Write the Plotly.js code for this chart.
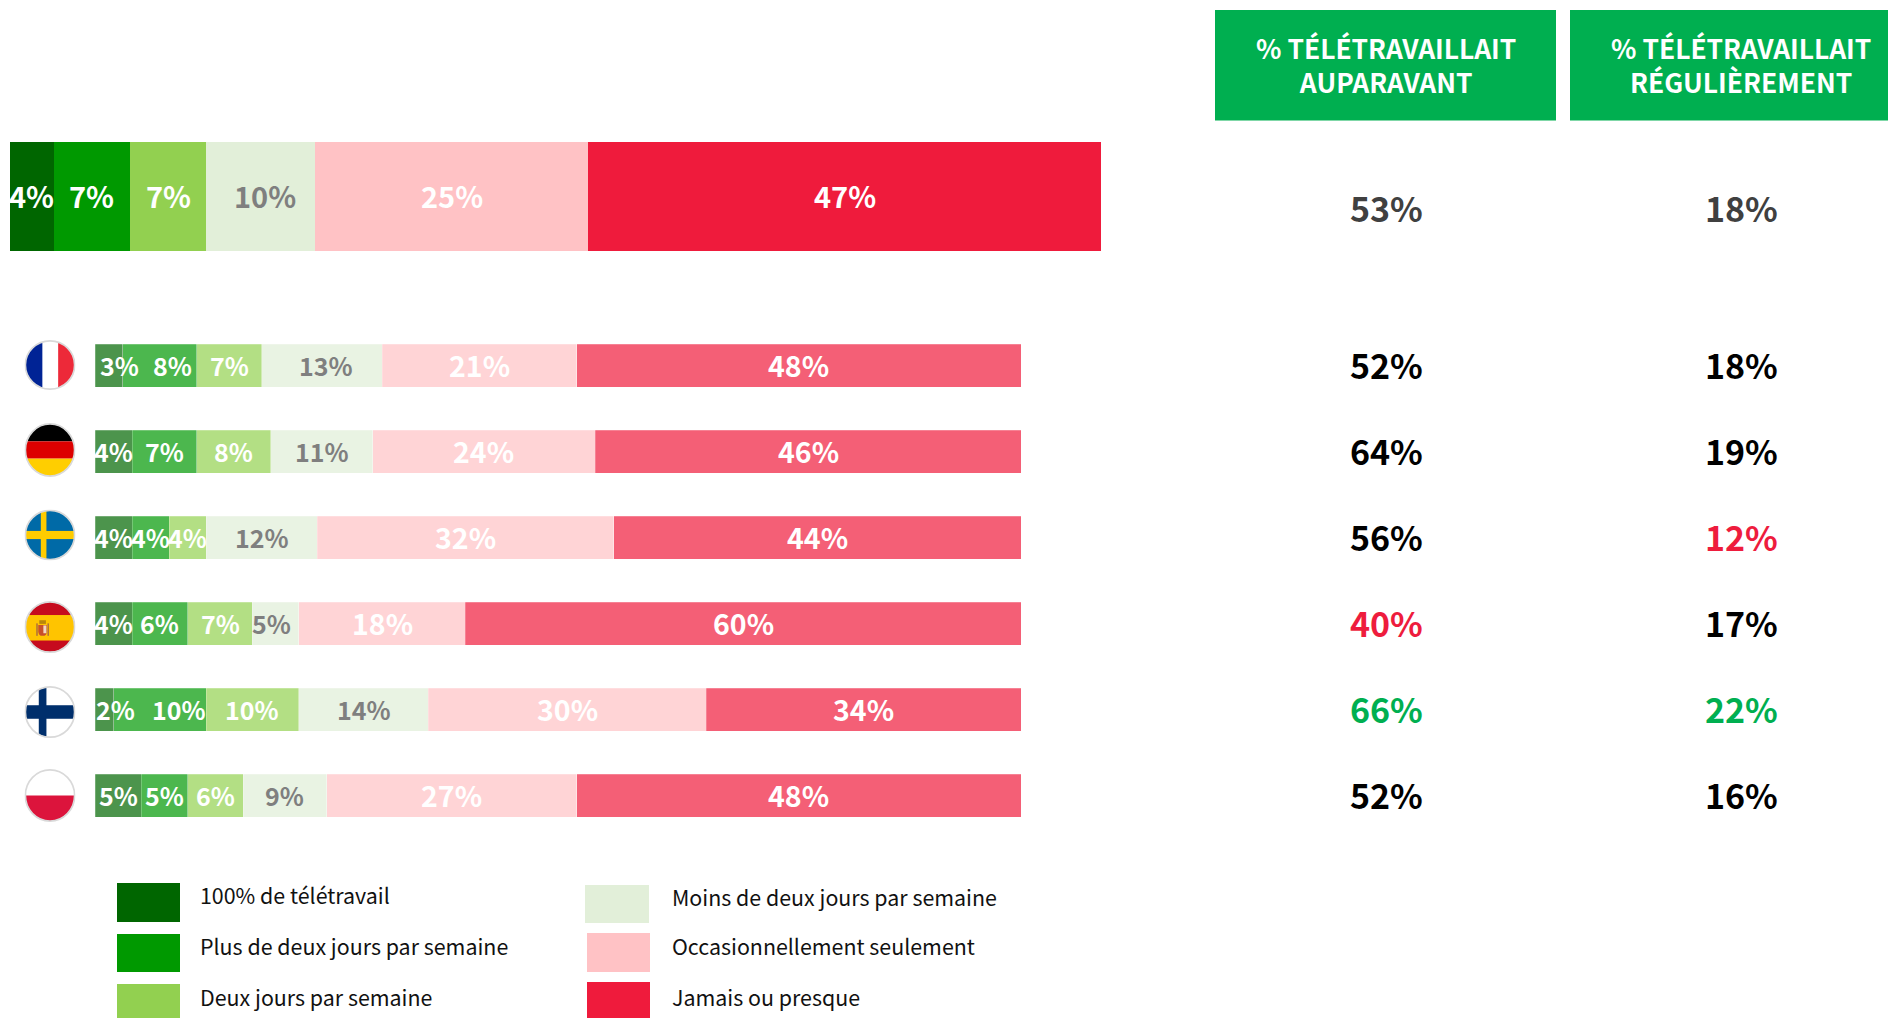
<!DOCTYPE html>
<html lang="fr">
<head>
<meta charset="utf-8">
<script src="https://cdn.plot.ly/plotly-3.0.1.min.js"></script>
<style>html,body{margin:0;padding:0;background:#fff;overflow:hidden}#chart{width:1888px;height:1018px}</style>
</head>
<body>
<div id="chart"></div>
<script>
// ---------- data ----------
const seriesNames = ["100% de télétravail","Plus de deux jours par semaine","Deux jours par semaine","Moins de deux jours par semaine","Occasionnellement seulement","Jamais ou presque"];
const countries = ["France","Allemagne","Suède","Espagne","Finlande","Pologne"];
const overall = [4,7,7,10,25,47];
const France = [3,8,7,13,21,48];
const Allemagne = [4,7,8,11,24,46];
const Suede = [4,4,4,12,32,44];
const Espagne = [4,6,7,5,18,60];
const Finlande = [2,10,10,14,30,34];
const Pologne = [5,5,6,9,27,48];
const countryValues = [France,Allemagne,Suede,Espagne,Finlande,Pologne];
const overallBefore = 53, overallRegular = 18;
const before = [52,64,56,40,66,52];
const regular = [18,19,12,17,22,16];
const headerBefore = "% TÉLÉTRAVAILLAIT<br>AUPARAVANT";
const headerRegular = "% TÉLÉTRAVAILLAIT<br>RÉGULIÈREMENT";

// ---------- styles ----------
const W = 1888, H = 1018;
const FONT = '"Noto Sans CJK SC","Noto Sans",sans-serif';
const solid = ["#006600","#009900","#92D050","#E2EFD9","#FFC2C5","#EF1B3C"];
const faded = ["#4C944C","#4CB74E","#B3DF84","#E9F3E3","#FFD4D6","#F45F76"];
const labelColors = ["#fff","#fff","#fff","#7F7F7F","#fff","#fff"];
const labelSizesTop = [29,29,29,29,29,29];
const labelSizes = [25,25,25,25,28.5,28.5];
const labelNudgeTop = [0,0,0,4,0,0];
const labelNudge = [
  [11,13,0,4,0,0],[0,0,0,0,0,0],[0,0,0,0,0,0],
  [0,0,0,-4,0,0],[11,19,0,0,0,0],[0,0,0,0,0,0]
];
const px = v => v / W, py = v => 1 - v / H;

const traces = [];
const annotations = [];
const shapes = [];

seriesNames.forEach((name, s) => {
  traces.push({type:"bar",orientation:"h",name,x:[overall[s]],y:["Ensemble"],width:[1],
    xaxis:"x",yaxis:"y",marker:{color:solid[s],line:{width:0}},showlegend:false});
  traces.push({type:"bar",orientation:"h",name,x:countryValues.map(r=>r[s]),y:countries,width:countries.map(()=>0.5),
    xaxis:"x2",yaxis:"y2",marker:{color:faded[s],line:{color:"rgba(255,255,255,0.45)",width:0.5}},showlegend:false});
});

function barLabels(row, cat, xr, yr, nudges, sizes){
  let acc = 0;
  row.forEach((v,i)=>{
    annotations.push({x:acc+v/2,y:cat,xref:xr,yref:yr,text:"<b>"+v+"%</b>",showarrow:false,
      xanchor:"center",yanchor:"middle",xshift:nudges[i],yshift:1,font:{family:FONT,size:sizes[i],color:labelColors[i]}});
    acc += v;
  });
}
barLabels(overall,"Ensemble","x","y",labelNudgeTop,labelSizesTop);
countries.forEach((c,i)=>barLabels(countryValues[i],c,"x2","y2",labelNudge[i],labelSizes));

// ---------- header boxes and right-hand columns ----------
const COL1 = 1386, COL2 = 1741, HEAD = "#00AF50";
[[1215,1556],[1570,1888]].forEach(b=>shapes.push({type:"rect",xref:"paper",yref:"paper",
  x0:px(b[0]),x1:px(b[1]),y0:py(10),y1:py(120.5),fillcolor:HEAD,line:{width:0},layer:"below"}));
[[COL1,headerBefore],[COL2,headerRegular]].forEach(h=>annotations.push({xref:"paper",yref:"paper",
  x:px(h[0]),y:py(64.5),text:"<b>"+h[1]+"</b>",showarrow:false,align:"center",xanchor:"center",yanchor:"middle",
  font:{family:FONT,size:26.4,color:"#fff"}}));

const pctColor = (v,list)=> v===Math.max(...list) ? "#00AF50" : v===Math.min(...list) ? "#EE1C3D" : "#000";
function pct(col,val,yv,yr,color,shift){
  annotations.push({xref:"paper",x:px(col),y:yv,yref:yr,text:"<b>"+val+"%</b>",showarrow:false,yshift:shift,
    xanchor:"center",yanchor:"middle",font:{family:FONT,size:34,color}});
}
pct(COL1,overallBefore,"Ensemble","y","#404040",-11.5);
pct(COL2,overallRegular,"Ensemble","y","#404040",-11.5);
countries.forEach((c,i)=>{
  pct(COL1,before[i],c,"y2",pctColor(before[i],before),1);
  pct(COL2,regular[i],c,"y2",pctColor(regular[i],regular),1);
});

// ---------- legend ----------
const legendBoxes = [[117,180,883,922],[117,180,934,972],[117,180,984,1018],[585,649,885,923],[587,650,933,972],[587,650,982,1018]];
const legendText = [[198,894.5],[198,945.5],[198,996.5],[670,896.5],[670,945.5],[670,996.5]];
seriesNames.forEach((n,i)=>{
  const b = legendBoxes[i], t = legendText[i];
  shapes.push({type:"rect",xref:"paper",yref:"paper",x0:px(b[0]),x1:px(b[1]),y0:py(b[3]),y1:py(b[2]),
    fillcolor:solid[i],line:{width:0}});
  annotations.push({xref:"paper",yref:"paper",x:px(t[0]),y:py(t[1]),xanchor:"left",yanchor:"middle",text:n,showarrow:false,
    font:{family:FONT,size:21.4,color:"#111"}});
});

// ---------- flags ----------
function flagSvg(inner){
  const svg = '<svg xmlns="http://www.w3.org/2000/svg" width="100" height="100" viewBox="0 0 100 100" preserveAspectRatio="none">'+
    '<defs><clipPath id="c"><circle cx="50" cy="50" r="48"/></clipPath></defs>'+
    '<g clip-path="url(#c)"><rect width="100" height="100" fill="#fff"/>'+inner+'</g>'+
    '<circle cx="50" cy="50" r="48.3" fill="none" stroke="#D9D9D9" stroke-width="3.4"/></svg>';
  return "data:image/svg+xml;charset=utf-8,"+encodeURIComponent(svg);
}
const flags = [
  {cy:365,h:50,svg:'<rect x="0" width="35" height="100" fill="#002395"/><rect x="66" width="34" height="100" fill="#ED2939"/>'},
  {cy:450,h:54,svg:'<rect width="100" height="34" fill="#000"/><rect y="34" width="100" height="32" fill="#DD0000"/><rect y="66" width="100" height="34" fill="#FFCE00"/>'},
  {cy:535,h:51,svg:'<rect width="100" height="100" fill="#006AA7"/><rect x="32" width="11" height="100" fill="#FECC00"/><rect y="42" width="100" height="16" fill="#FECC00"/>'},
  {cy:627,h:52,svg:'<rect width="100" height="100" fill="#C60B1E"/><rect y="27" width="100" height="49" fill="#FFC400"/><path d="M27 46h17v12q0 9-8.500 9t-8.500-9z" fill="#C8502A"/><rect x="29" y="37" width="13" height="7" fill="#B8860B"/><rect x="37" y="47" width="6" height="15" fill="#F2D8C0"/><rect x="23" y="43" width="3" height="24" fill="#B0713A"/><rect x="45" y="43" width="3" height="24" fill="#B0713A"/>'},
  {cy:712,h:52,svg:'<rect x="28" width="15" height="100" fill="#002F6C"/><rect y="37" width="100" height="26" fill="#002F6C"/>'},
  {cy:795.5,h:53,svg:'<rect y="50" width="100" height="50" fill="#DC143C"/>'}
];
const images = flags.map(f=>({source:flagSvg(f.svg),xref:"paper",yref:"paper",x:px(24.5),y:py(f.cy-f.h/2),
  sizex:51/W,sizey:f.h/H,xanchor:"left",yanchor:"top",sizing:"stretch",layer:"above"}));

// ---------- layout ----------
const hidden = {showgrid:false,zeroline:false,showticklabels:false,ticks:"",showline:false,fixedrange:true};
const layout = {
  width:W,height:H,margin:{l:0,r:0,t:0,b:0,pad:0},paper_bgcolor:"#fff",plot_bgcolor:"rgba(0,0,0,0)",
  barmode:"stack",showlegend:false,hovermode:false,
  xaxis:Object.assign({},hidden,{domain:[px(10),px(1101)],range:[0,100],anchor:"y"}),
  yaxis:Object.assign({},hidden,{domain:[py(251),py(142)],type:"category",range:[-0.5,0.5],anchor:"x"}),
  xaxis2:Object.assign({},hidden,{domain:[px(95),px(1021)],range:[0,100],anchor:"y2"}),
  yaxis2:Object.assign({},hidden,{domain:[py(838.5),py(322.5)],type:"category",categoryorder:"array",categoryarray:countries,range:[5.5,-0.5],anchor:"x2"}),
  shapes,annotations,images
};
Plotly.newPlot("chart",traces,layout,{staticPlot:true,displayModeBar:false});
</script>
</body>
</html>
